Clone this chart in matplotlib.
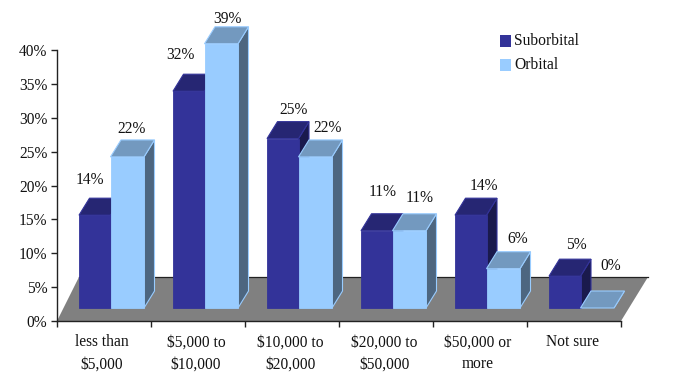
import matplotlib
matplotlib.use("Agg")
import matplotlib.pyplot as plt
from matplotlib.patches import Polygon

categories = ["less than\n$5,000", "$5,000 to\n$10,000", "$10,000 to\n$20,000",
              "$20,000 to\n$50,000", "$50,000 or\nmore", "Not sure"]
# heights; the printed labels are these rounded
suborbital = [13.7, 32.0, 25.0, 11.4, 13.7, 4.7]
orbital = [22.3, 39.0, 22.3, 11.4, 5.8, 0.0]
y_ticks = [0, 5, 10, 15, 20, 25, 30, 35, 40]

# label nudges in pixels, from the centre of each bar's back top edge
sub_nudge = [(-15.5, 18), (-18.5, 19), (0, 12), (-4.5, 22), (2.5, 12), (1.5, 14)]
orb_nudge = [(-6, 11), (-4, 8), (2, 12), (0, 16), (4, 13), (3, 25)]

W, H = 689, 373
PX_X = 94.0            # pixels per category
PX_Y = 6.775           # pixels per percent
SERIF = "Liberation Serif"
plt.rcParams["font.family"] = SERIF
FS = 11.2

BLUE = dict(front="#333399", top="#262673", side="#1A1A4D", edge="#333399")
SKY = dict(front="#99CCFF", top="#7399BF", side="#4D6680", edge="#99CCFF")

fig = plt.figure(figsize=(W / 100, H / 100), dpi=100, facecolor="white")
ax = fig.add_axes([57 / W, 1 - 321 / H, (621 - 57) / W, (321 - 50) / H])
ax.set_xlim(0, 6)
ax.set_ylim(0, 40)
for s in ("top", "right"):
    ax.spines[s].set_visible(False)
for s in ("left", "bottom"):
    ax.spines[s].set_linewidth(1.0)
    ax.spines[s].set_color("#222222")
    ax.spines[s].set_zorder(50)

# floor
floor = [(0, 0), (6, 0), (6 + 27 / PX_X, 44 / PX_Y), (22 / PX_X, 44 / PX_Y)]
ax.add_patch(Polygon(floor, closed=True, fc="#808080", ec="none", clip_on=False, zorder=1))
ax.plot([22 / PX_X, 6 + 27 / PX_X], [44 / PX_Y, 44 / PX_Y], color="#222222", lw=0.9,
        clip_on=False, zorder=1.5)

BASE = 13 / PX_Y           # bar foot sits in front of the back wall
DX, DY = 10.5 / PX_X, 17 / PX_Y
SUB_W = 31.5 / PX_X
ORB_W = 33.5 / PX_X
OFFSET = 22 / PX_X


def bar3d(x, w, v, c, z):
    y0, y1 = BASE, BASE + v
    x1 = x + w
    ax.add_patch(Polygon([(x1, y0), (x1 + DX, y0 + DY), (x1 + DX, y1 + DY), (x1, y1)],
                         fc=c["side"], ec=c["edge"], lw=0.8, clip_on=False, zorder=z))
    ax.add_patch(Polygon([(x, y1), (x1, y1), (x1 + DX, y1 + DY), (x + DX, y1 + DY)],
                         fc=c["top"], ec=c["edge"], lw=0.8, clip_on=False, zorder=z))
    if v > 0:
        ax.add_patch(Polygon([(x, y0), (x1, y0), (x1, y1), (x, y1)],
                             fc=c["front"], ec=c["edge"], lw=0.6, clip_on=False, zorder=z + 0.1))


for i, (s, o) in enumerate(zip(suborbital, orbital)):
    x_s = i + OFFSET
    x_o = x_s + SUB_W
    bar3d(x_s, SUB_W, s, BLUE, 10 + i)
    bar3d(x_o, ORB_W, o, SKY, 10.5 + i)
    for x, w, v, nudge in ((x_s, SUB_W, s, sub_nudge[i]), (x_o, ORB_W, o, orb_nudge[i])):
        ax.annotate(f"{v:.0f}%", (x + DX + w / 2, BASE + v + DY),
                    xytext=(nudge[0] * 0.72, nudge[1] * 0.72), textcoords="offset points",
                    ha="center", va="center", fontsize=FS, color="#111111",
                    annotation_clip=False, zorder=40)

ax.set_yticks(y_ticks)
ax.set_yticklabels([f"{t}%" for t in y_ticks], fontsize=FS, color="#111111")
ax.set_xticks(range(7))
ax.set_xticklabels([""] * 7)
ax.tick_params(axis="both", length=4, width=1.0, color="#222222", pad=3)
for i, lab in enumerate(categories):
    ax.text(i + 0.48, -1.95, lab, ha="center", va="top", fontsize=FS, color="#111111",
            linespacing=1.5, clip_on=False)

# legend, placed by hand in figure pixels
for y, c, lab in ((41, BLUE, "Suborbital"), (65, SKY, "Orbital")):
    fig.patches.append(plt.Rectangle((500 / W, 1 - (y + 5.5) / H), 11 / W, 11 / H,
                                     transform=fig.transFigure, fc=c["front"], ec="none"))
    fig.text(514 / W, 1 - y / H, lab, ha="left", va="center", fontsize=FS, color="#111111")

fig.savefig("out.png", dpi=100)
